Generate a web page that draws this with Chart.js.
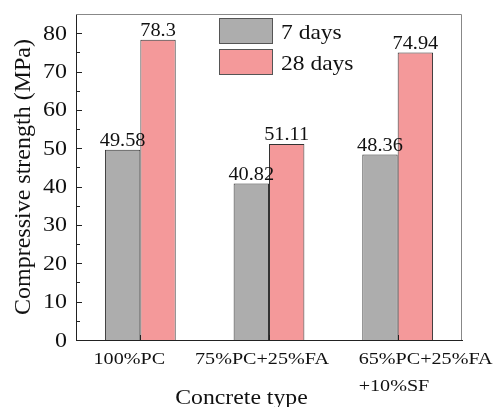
<!DOCTYPE html>
<html>
<head>
<meta charset="utf-8">
<script src="https://cdn.jsdelivr.net/npm/chart.js@4"></script>
<style>
  html, body { margin: 0; padding: 0; background: #fff; }
  #wrap { width: 497px; height: 407px; }
</style>
</head>
<body>
<div id="wrap"><canvas id="myChart" width="497" height="407"></canvas></div>
<script>
// data
const categories = ['100%PC', '75%PC+25%FA', ['65%PC+25%FA', '+10%SF']];
const seriesNames = ['7 days', '28 days'];
const days7 = [49.58, 40.82, 48.36];
const days28 = [78.3, 51.11, 74.94];
const yTicks = [0, 10, 20, 30, 40, 50, 60, 70, 80];
const yMax = 85;
const xTitle = 'Concrete type';
const yTitle = 'Compressive strength (MPa)';

const fam = "'Liberation Serif'";
const grey = '#adadad';
const pink = '#f4999a';

// the source picture is a bit wider than tall, so text gets stretched sideways
function txt(ctx, s, x, y, size, align, sx) {
  ctx.save();
  ctx.translate(x, y);
  ctx.scale(sx || 1.13, 1);
  ctx.font = size + 'px ' + fam;
  ctx.textAlign = align;
  ctx.textBaseline = 'alphabetic';
  ctx.fillStyle = '#111';
  ctx.fillText(s, 0, 0);
  ctx.restore();
}

// labels sit a bit off the category centre in the original
const labelShift = [-11, -7, 28];

const extras = {
  id: 'extras',
  afterDraw(chart) {
    const ctx = chart.ctx;
    const a = chart.chartArea;
    const xs = chart.scales.x;
    const ys = chart.scales.y;
    ctx.save();
    ctx.setLineDash([]);

    // grey frame on top / right
    ctx.strokeStyle = '#888888';
    ctx.lineWidth = 1;
    ctx.beginPath();
    ctx.moveTo(a.left, Math.round(a.top) + 0.5);
    ctx.lineTo(Math.round(a.right) - 0.5, Math.round(a.top) + 0.5);
    ctx.lineTo(Math.round(a.right) - 0.5, a.bottom);
    ctx.stroke();

    // inward ticks, y major + minor
    ctx.strokeStyle = '#222222';
    ctx.beginPath();
    for (let v = 0; v <= 80; v += 5) {
      const y = Math.round(ys.getPixelForValue(v)) + 0.5;
      const len = v % 10 === 0 ? 6 : 4;
      ctx.moveTo(a.left, y);
      ctx.lineTo(a.left + len, y);
    }
    for (let i = 0; i < categories.length; i++) {
      const x = Math.round(xs.getPixelForValue(i)) + 0.5;
      ctx.moveTo(x, a.bottom);
      ctx.lineTo(x, a.bottom - 5);
    }
    ctx.stroke();

    // y tick labels
    yTicks.forEach((v) => {
      txt(ctx, String(v), a.left - 9, ys.getPixelForValue(v) + 6.5, 20, 'right', 1.2);
    });

    // value labels on the bars
    chart.data.datasets.forEach((ds, di) => {
      chart.getDatasetMeta(di).data.forEach((bar, i) => {
        txt(ctx, String(ds.data[i]), bar.x, bar.y - 3.5, 18, 'center', 1.13);
      });
    });

    // category labels (multi line ones are left aligned)
    ctx.font = '17.5px ' + fam;
    categories.forEach((lab, i) => {
      const lines = Array.isArray(lab) ? lab : [lab];
      const w = ctx.measureText(lines[0]).width * 1.15;
      const left = xs.getPixelForValue(i) + labelShift[i] - w / 2;
      lines.forEach((ln, k) => txt(ctx, ln, left, a.bottom + 24 + k * 27, 17.5, 'left', 1.15));
    });

    // axis titles
    txt(ctx, xTitle, 241.5, 404, 21, 'center', 1.13);
    ctx.save();
    ctx.translate(30, (a.top + a.bottom) / 2);
    ctx.rotate(-Math.PI / 2);
    ctx.font = '24px ' + fam;
    ctx.textAlign = 'center';
    ctx.textBaseline = 'alphabetic';
    ctx.fillStyle = '#111';
    ctx.fillText(yTitle, 0, 0);
    ctx.restore();

    // legend inside the plot
    const lx = 219, ly = 18, bw = 54, bh = 26, gap = 31;
    chart.data.datasets.forEach((ds, di) => {
      const y = ly + di * gap;
      ctx.fillStyle = ds.backgroundColor;
      ctx.fillRect(lx, y, bw, bh);
      ctx.strokeStyle = '#555';
      ctx.strokeRect(lx + 0.5, y + 0.5, bw - 1, bh - 1);
      txt(ctx, ds.label, lx + bw + 8, y + 21, 21, 'left', 1.12);
    });
    ctx.restore();
  }
};

new Chart('myChart', {
  type: 'bar',
  data: {
    labels: categories,
    datasets: [
      { label: seriesNames[0], data: days7, backgroundColor: grey, borderColor: '#333', borderWidth: 1 },
      { label: seriesNames[1], data: days28, backgroundColor: pink, borderColor: '#333', borderWidth: 1 }
    ]
  },
  options: {
    responsive: false,
    animation: false,
    layout: { padding: { top: 14, right: 35, left: 0, bottom: 0 } },
    datasets: { bar: { categoryPercentage: 0.55, barPercentage: 1 } },
    plugins: {
      legend: { display: false },
      tooltip: { enabled: false }
    },
    scales: {
      x: {
        grid: { display: false },
        border: { display: true, color: '#222', width: 1 },
        ticks: { display: false },
        afterFit(scale) { scale.height = 67; }
      },
      y: {
        min: 0,
        max: yMax,
        grid: { display: false, drawTicks: false },
        border: { display: true, color: '#222', width: 1 },
        afterBuildTicks(scale) { scale.ticks = yTicks.map((v) => ({ value: v })); },
        ticks: { display: false },
        afterFit(scale) {
          scale.width = 76;
          scale.paddingTop = 0;
          scale.paddingBottom = 0;
        }
      }
    }
  },
  plugins: [extras]
});
</script>
</body>
</html>
